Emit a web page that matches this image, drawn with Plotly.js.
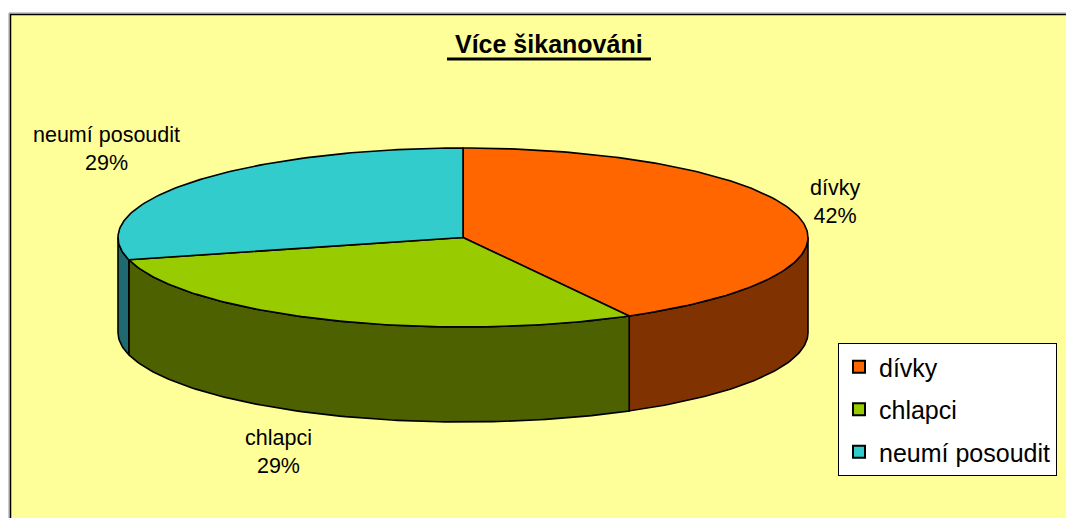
<!DOCTYPE html>
<html>
<head>
<meta charset="utf-8">
<script src="https://cdn.plot.ly/plotly-3.0.1.min.js"></script>
<style>html,body{margin:0;padding:0;background:#fff;}#chart{width:1066px;height:518px;}</style>
</head>
<body>
<div id="chart"></div>
<script>
// ---- data ----
const titleText = 'Více šikanováni';
const labels = ['dívky', 'chlapci', 'neumí posoudit'];
const values = [42, 29, 29];
const topColors = ['#FF6600', '#99CC00', '#33CCCC'];
const sideColors = ['#803300', '#4D6100', '#1F6A70'];

// ---- geometry (layout only) ----
const CX = 463, CY = 237.5, RX = 345, RY = 89.5, DEPTH = 95;
const FONT = 'Liberation Sans, Arial, sans-serif';

function pt(deg, dz) {
  const r = deg * Math.PI / 180;
  return [CX + RX * Math.cos(r), CY - RY * Math.sin(r) + dz];
}
function arc(from, to, dz) { // from > to (clockwise)
  const pts = [];
  const n = Math.max(2, Math.ceil(Math.abs(from - to)));
  for (let i = 0; i <= n; i++) pts.push(pt(from + (to - from) * i / n, dz));
  return pts;
}

const total = values.reduce((a, b) => a + b, 0);
let start = 90;
const slices = values.map((v, i) => {
  const sweep = v / total * 360;
  const s = { s: start, e: start - sweep, i };
  start -= sweep;
  return s;
});

const sideTraces = [], topTraces = [];
slices.forEach(sl => {
  // visible front side: angles in (-180, 0) modulo 360
  for (let k = -1; k <= 1; k++) {
    const lo = -180 + 360 * k, hi = 0 + 360 * k;
    const a = Math.min(sl.s, hi), b = Math.max(sl.e, lo);
    if (a > b) {
      const topArc = arc(a, b, 0);
      const botArc = arc(a, b, DEPTH).reverse();
      const poly = topArc.concat(botArc);
      poly.push(poly[0]);
      sideTraces.push({
        type: 'scatter', mode: 'lines', fill: 'toself',
        x: poly.map(p => p[0]), y: poly.map(p => p[1]),
        fillcolor: sideColors[sl.i], line: { color: '#000', width: 1.6 },
        hoverinfo: 'skip', showlegend: false
      });
    }
  }
  const poly = [[CX, CY]].concat(arc(sl.s, sl.e, 0));
  poly.push([CX, CY]);
  topTraces.push({
    type: 'scatter', mode: 'lines', fill: 'toself',
    x: poly.map(p => p[0]), y: poly.map(p => p[1]),
    fillcolor: topColors[sl.i], line: { color: '#000', width: 1.6 },
    name: labels[sl.i], hoverinfo: 'name', showlegend: false
  });
});

const legendTraces = labels.map((l, i) => ({
  type: 'scatter', mode: 'markers', x: [null], y: [null],
  name: l, legendgroup: 'g' + i,
  marker: { symbol: 'square', size: 13, color: topColors[i], line: { color: '#000', width: 1.5 } }
}));

const labelPos = [[835, 202], [278, 452], [106, 149]];
const annotations = labels.map((l, i) => ({
  x: labelPos[i][0], y: labelPos[i][1], xref: 'x', yref: 'y',
  text: l + '<br>' + Math.round(values[i] / total * 100) + '%',
  showarrow: false, align: 'center', xanchor: 'center', yanchor: 'middle',
  font: { family: FONT, size: 21.5, color: '#000' }
}));
annotations.push({
  x: 549, y: 44, xref: 'x', yref: 'y', text: '<b>' + titleText + '</b>',
  showarrow: false, xanchor: 'center', yanchor: 'middle',
  font: { family: FONT, size: 25, color: '#000' }
});

const layout = {
  width: 1066, height: 518,
  margin: { l: 0, r: 0, t: 0, b: 0 },
  paper_bgcolor: '#FFFFFF', plot_bgcolor: 'rgba(0,0,0,0)',
  xaxis: { range: [0, 1066], visible: false, fixedrange: true },
  yaxis: { range: [518, 0], visible: false, fixedrange: true },
  showlegend: true,
  legend: {
    x: 838 / 1066, y: 1 - 343 / 518, xanchor: 'left', yanchor: 'top',
    bgcolor: '#FFFFFF', bordercolor: '#000', borderwidth: 1,
    font: { family: FONT, size: 25, color: '#000' },
    traceorder: 'grouped', tracegroupgap: 7, itemsizing: 'constant'
  },
  shapes: [
    { type: 'rect', xref: 'x', yref: 'y', x0: 9, y0: 13, x1: 1080, y1: 530,
      fillcolor: 'rgba(0,0,0,0)', line: { color: '#999', width: 1 }, layer: 'below' },
    { type: 'rect', xref: 'x', yref: 'y', x0: 10.5, y0: 14.5, x1: 1080, y1: 530,
      fillcolor: '#FFFF99', line: { color: '#000', width: 1.5 }, layer: 'below' },
    { type: 'line', xref: 'x', yref: 'y', x0: 447, y0: 59, x1: 651, y1: 59,
      line: { color: '#000', width: 3 } }
  ],
  annotations: annotations
};

Plotly.newPlot('chart', sideTraces.concat(topTraces, legendTraces), layout,
  { displayModeBar: false, staticPlot: true });
</script>
</body>
</html>
